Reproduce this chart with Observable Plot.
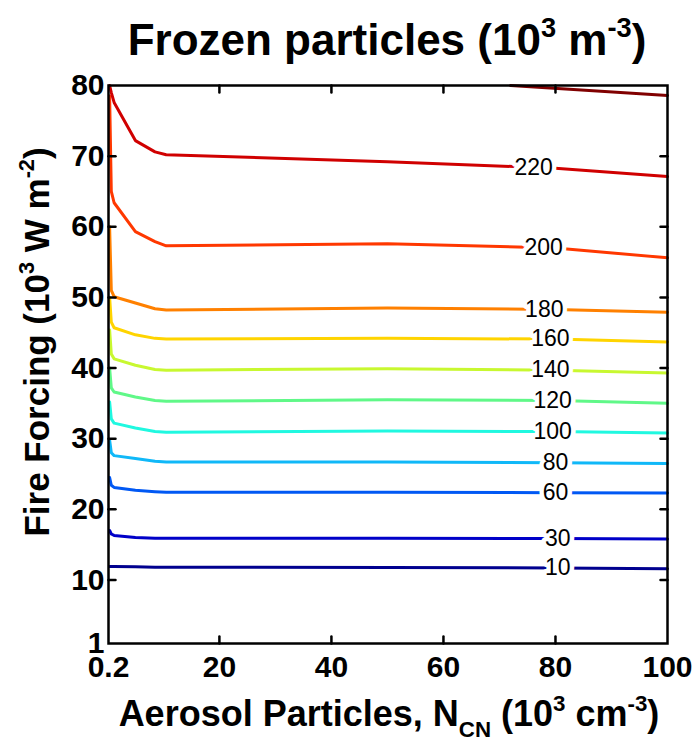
<!DOCTYPE html>
<html><head><meta charset="utf-8">
<script src="https://cdn.jsdelivr.net/npm/d3@7"></script>
<script src="https://cdn.jsdelivr.net/npm/@observablehq/plot@0.6"></script>
<style>
body{margin:0;background:#fff}
#chart svg{display:block}
</style>
</head><body><div id="chart"></div>
<script>
// ---- data ----
const levels = [10, 30, 60, 80, 100, 120, 140, 160, 180, 200, 220, 240];
const lineColors = ["#00008f", "#0000c8", "#0058f4", "#10b8f8", "#20f8e0", "#60f888", "#c8f830", "#ffd400", "#ff8000", "#ff3800", "#d00000", "#800000"];
const xGrid = [0.4, 0.7, 1.2, 5, 8.5, 10.5, 50, 80, 100];
const y10  = [11.9, 11.9, 11.9, 11.85, 11.8, 11.8, 11.75, 11.7, 11.6];
const y30  = [17.0, 16.5, 16.3, 16.0, 15.9, 15.9, 15.9, 15.85, 15.8];
const y60  = [24.5, 23.4, 23.1, 22.7, 22.5, 22.4, 22.4, 22.35, 22.3];
const y80  = [29.8, 28.0, 27.6, 27.2, 26.8, 26.7, 26.7, 26.6, 26.5];
const y100 = [35.2, 32.8, 32.2, 31.5, 31.0, 30.9, 31.1, 31.0, 30.8];
const y120 = [40.0, 37.2, 36.6, 35.9, 35.4, 35.3, 35.5, 35.4, 35.0];
const y140 = [45.4, 42.0, 41.3, 40.4, 39.8, 39.7, 39.9, 39.7, 39.3];
const y160 = [50.0, 46.5, 45.7, 44.7, 44.2, 44.1, 44.2, 44.1, 43.7];
const y180 = [60.0, 51.0, 50.1, 49.2, 48.4, 48.2, 48.5, 48.3, 47.9];
const y200 = [78.5, 65.0, 63.4, 59.3, 57.9, 57.3, 57.6, 57.0, 55.6];
const y220 = [80.0, 79.0, 77.6, 72.2, 70.6, 70.2, 69.2, 68.3, 67.1];
const x240 = [72, 100];
const y240 = [80, 78.6];
const labelLevels = [10, 30, 60, 80, 100, 120, 140, 160, 180, 200, 220];
const labelX = [80.4, 80.4, 80.0, 80.0, 79.5, 79.5, 79.1, 79.1, 78.0, 77.9, 76.1];
const xTickValues = [0.2, 20, 40, 60, 80, 100];
const xInnerTicks = [20, 40, 60, 80];
const yTickValues = [1, 10, 20, 30, 40, 50, 60, 70, 80];
const yInnerTicks = [10, 20, 30, 40, 50, 60, 70];

// ---- build tables ----
const series = {10: y10, 30: y30, 60: y60, 80: y80, 100: y100, 120: y120, 140: y140, 160: y160, 180: y180, 200: y200, 220: y220};
const rows = [];
for (const lv of labelLevels) series[lv].forEach((y, i) => rows.push({level: lv, x: xGrid[i], y}));
x240.forEach((x, i) => rows.push({level: 240, x, y: y240[i]}));

function interp(xs, ys, x) {
  for (let i = 1; i < xs.length; i++) {
    if (x <= xs[i]) { const t = (x - xs[i-1]) / (xs[i] - xs[i-1]); return ys[i-1] + t * (ys[i] - ys[i-1]); }
  }
  return ys[ys.length - 1];
}
const labels = labelLevels.map((lv, i) => ({level: lv, x: labelX[i], y: interp(xGrid, series[lv], labelX[i])}));

const FONT = "'Liberation Sans', Arial, Helvetica, sans-serif";
const tickFont = 30;
const xMin = 0.2, xMax = 100, yMin = 1, yMax = 80;
const tickShape = {draw(context, l) { context.moveTo(0, 0); context.lineTo(0, -l); }};
const tickOpts = {length: 7, anchor: "start", shape: tickShape, stroke: "black", strokeWidth: 2.5};

const plot = Plot.plot({
  width: 700, height: 750,
  marginTop: 85, marginBottom: 107, marginLeft: 108, marginRight: 33,
  style: {fontFamily: FONT, background: "white", color: "black"},
  x: {domain: [xMin, xMax], axis: null},
  y: {domain: [yMin, yMax], axis: null},
  color: {type: "ordinal", domain: levels, range: lineColors},
  marks: [
    Plot.line(rows, {x: "x", y: "y", z: "level", stroke: "level", strokeWidth: 3, curve: "linear"}),
    Plot.text(labels, {x: "x", y: "y", text: d => String(d.level), fontSize: 23, fill: "black", stroke: "white", strokeWidth: 9, paintOrder: "stroke"}),
    Plot.axisX(xTickValues, {anchor: "bottom", tickSize: 0, tickPadding: 12, fontSize: tickFont, fontWeight: "bold", tickFormat: d => String(d), label: null}),
    Plot.axisY(yTickValues, {anchor: "left", tickSize: 0, tickPadding: 4, fontSize: tickFont, fontWeight: "bold", tickFormat: d => String(d), label: null}),
    Plot.vector(xInnerTicks, {x: d => d, y: () => yMin, rotate: 0, ...tickOpts}),
    Plot.vector(xInnerTicks, {x: d => d, y: () => yMax, rotate: 180, ...tickOpts}),
    Plot.vector(yInnerTicks, {x: () => xMin, y: d => d, rotate: 90, ...tickOpts}),
    Plot.vector(yInnerTicks, {x: () => xMax, y: d => d, rotate: -90, ...tickOpts}),
    Plot.frame({stroke: "black", strokeWidth: 2.5})
  ]
});
document.getElementById("chart").appendChild(plot);

// ---- title and axis labels with super/subscripts ----
const svg = d3.select(plot);
function rich(x, y, size, parts, rotate) {
  const t = svg.append("text")
    .attr("x", x).attr("y", y)
    .attr("text-anchor", "middle")
    .attr("font-family", FONT).attr("font-weight", "bold")
    .attr("font-size", size).attr("fill", "black");
  if (rotate) t.attr("transform", `rotate(${rotate},${x},${y})`);
  const small = size * 0.62;
  let shift = 0;
  for (const [s, kind] of parts) {
    const target = kind === "sup" ? -size * 0.42 : kind === "sub" ? size * 0.3 : 0;
    t.append("tspan").attr("dy", target - shift).attr("font-size", kind ? small : size).text(s);
    shift = target;
  }
}
rich(387, 55, 44, [["Frozen particles (10"], ["3", "sup"], [" m"], ["-3", "sup"], [")"]]);
rich(389, 726, 36, [["Aerosol Particles, N"], ["CN", "sub"], [" (10"], ["3", "sup"], [" cm"], ["-3", "sup"], [")"]]);
rich(49, 342, 35, [["Fire Forcing (10"], ["3", "sup"], [" W m"], ["-2", "sup"], [")"]], -90);
</script>
</body></html>
